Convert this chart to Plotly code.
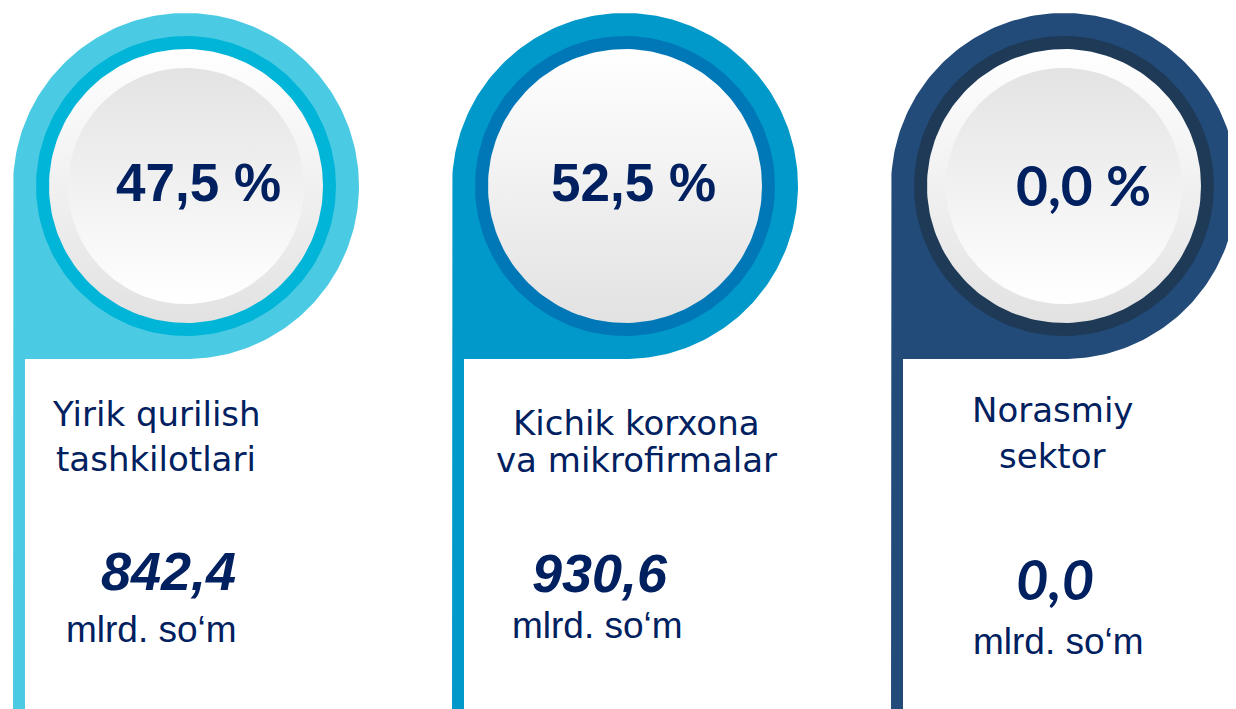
import numpy as np
import plotly.graph_objects as go

# data read from the infographic
labels = [["Yirik qurilish", "tashkilotlari"],
          ["Kichik korxona", "va mikrofirmalar"],
          ["Norasmiy", "sektor"]]
shares = [47.5, 52.5, 0.0]
values = [842.4, 930.6, 0.0]
unit = "mlrd. so‘m"

W, H = 1236, 709
PAD = 8  # page body margin of the html output
NAVY = "#002060"

# per-panel styling
outer_colors = ["#4BCBE3", "#0099C9", "#224B7A"]
ring_colors = ["#00B5D8", "#0078B7", "#1E3A56"]
inner_disc = [True, False, True]
num_fonts = ["Liberation Sans", "Liberation Sans", "Lato"]
pct_sizes = [53, 53, 55]
val_sizes = [54, 54, 56]
centers_x = [186, 625, 1064]
CY, R_OUT, R_RING, R_WHITE, R_DISC = 186, 173, 150, 137, 118
BAR_W = 12


def fmt(v):
    return f"{v:.1f}".replace(".", ",")


def circle(cx, cy, r, n=180):
    t = np.linspace(0, 2 * np.pi, n)
    return cx + r * np.cos(t), cy + r * np.sin(t)


fig = go.Figure()

for i, cx in enumerate(centers_x):
    # pin shape: circle + bottom-left square corner + thin vertical stem
    t = np.linspace(np.pi, 2.5 * np.pi, 200)
    left = cx - R_OUT
    px = np.concatenate([[left, left], cx + R_OUT * np.cos(t),
                         [left + BAR_W, left + BAR_W, left]])
    py = np.concatenate([[H + 20, CY], CY + R_OUT * np.sin(t),
                         [CY + R_OUT, H + 20, H + 20]])
    fig.add_trace(go.Scatter(x=px, y=py, mode="lines", fill="toself",
                             fillcolor=outer_colors[i], line=dict(width=0),
                             hoverinfo="skip"))

    x, y = circle(cx, CY, R_RING)
    fig.add_trace(go.Scatter(x=x, y=y, mode="lines", fill="toself",
                             fillcolor=ring_colors[i], line=dict(width=0),
                             hoverinfo="skip"))

    x, y = circle(cx, CY, R_WHITE)
    fig.add_trace(go.Scatter(
        x=x, y=y, mode="lines", fill="toself", line=dict(width=0),
        fillgradient=dict(type="vertical", start=CY - R_WHITE, stop=CY + R_WHITE,
                          colorscale=[[0, "#ffffff"], [1, "#e2e2e2"]]),
        hoverinfo="skip"))

    if inner_disc[i]:
        x, y = circle(cx, CY, R_DISC)
        fig.add_trace(go.Scatter(
            x=x, y=y, mode="lines", fill="toself", line=dict(width=0),
            fillgradient=dict(type="vertical", start=CY - R_DISC, stop=CY + R_DISC,
                              colorscale=[[0, "#e3e3e3"], [1, "#ffffff"]]),
            hoverinfo="skip"))

# text positions (pixel coords, y downwards)
pct_pos = [(198, 182), (633, 182), (1083, 185)]
lbl_pos = [(156, 414, 459), (636, 423, 460), (1052, 410, 456)]
val_pos = [(168, 571), (600, 573), (1055, 578)]
unit_pos = [(151, 629), (597, 625), (1058, 641)]

ann = []
for i in range(3):
    ann.append(dict(x=pct_pos[i][0], y=pct_pos[i][1], text=f"<b>{fmt(shares[i])} %</b>",
                    font=dict(family=num_fonts[i], size=pct_sizes[i], color=NAVY)))
    for k, line in enumerate(labels[i]):
        ann.append(dict(x=lbl_pos[i][0], y=lbl_pos[i][1 + k], text=line,
                        font=dict(family="DejaVu Sans", size=34, color=NAVY)))
    ann.append(dict(x=val_pos[i][0], y=val_pos[i][1], text=f"<b><i>{fmt(values[i])}</i></b>",
                    font=dict(family=num_fonts[i], size=val_sizes[i], color=NAVY)))
    ann.append(dict(x=unit_pos[i][0], y=unit_pos[i][1], text=unit,
                    font=dict(family="Liberation Sans", size=37, color=NAVY)))

for a in ann:
    a.update(xref="x", yref="y", showarrow=False, xanchor="center", yanchor="middle")

fig.update_layout(
    width=W - PAD, height=H - PAD, margin=dict(l=0, r=0, t=0, b=0),
    paper_bgcolor="white", plot_bgcolor="white", showlegend=False,
    xaxis=dict(range=[PAD, W], visible=False, fixedrange=True),
    yaxis=dict(range=[H, PAD], visible=False, fixedrange=True),
    annotations=ann,
)

fig.write_html("out.html")
